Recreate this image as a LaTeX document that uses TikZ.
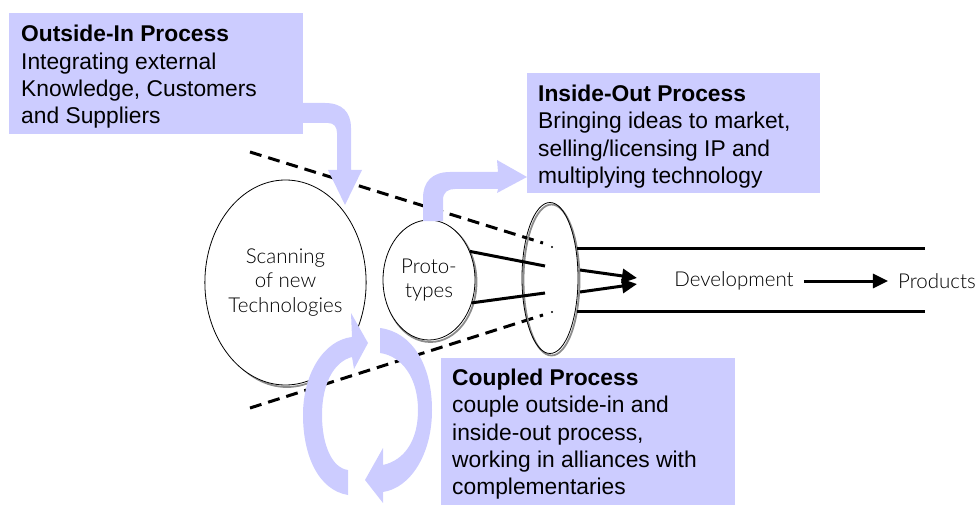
\documentclass[tikz,border=0pt]{standalone}
\usepackage{fontspec}
\setmainfont{Liberation Sans}
\newfontfamily\gill{Lato}[UprightFont=* Light]
\usetikzlibrary{arrows.meta,shapes.geometric}
\definecolor{lav}{RGB}{204,204,255}
\begin{document}
\begin{tikzpicture}[x=1pt,y=-1pt,
  pbox/.style={fill=lav, draw=none, anchor=north west, inner sep=0pt},
  ptext/.style={anchor=north west, inner sep=0pt, align=left, font=\fontsize{22.8}{27.4}\selectfont},
  oval/.style={ellipse, draw=black, line width=0.8pt, inner sep=0pt, align=center, font=\gill\fontsize{20.5}{24.5}\selectfont},
  ovalshadow/.style={ellipse, draw=black!45, line width=1.8pt, inner sep=0pt},
  gtext/.style={font=\gill\fontsize{20.5}{24}\selectfont, inner xsep=10pt, inner ysep=2pt},
  dline/.style={line width=3pt, dash pattern=on 12pt off 7pt},
  sline/.style={line width=3pt},
  tipped/.style={-{Triangle[length=15pt,width=14pt]}},
  flow/.style={fill=lav, draw=none}
]
\useasboundingbox (0,0) rectangle (979,505);

% process boxes
\node[pbox, minimum width=294pt, minimum height=121pt] (oibox) at (9,13) {};
\node[pbox, minimum width=293pt, minimum height=120pt] (iobox) at (527,73) {};
\node[pbox, minimum width=294pt, minimum height=147pt] (cpbox) at (441,358) {};

% dashed funnel
\coordinate (d1s) at (250,152); \coordinate (d1e) at (543,243); \coordinate (d1d) at (552,247);
\coordinate (d2s) at (250,408); \coordinate (d2e) at (543,315); \coordinate (d2d) at (552,312);
\draw[dline] (d1s) -- (d1e);
\draw[dline] (d2s) -- (d2e);
\fill (d1d) circle (1.1pt);
\fill (d2d) circle (1.1pt);

% ellipses with shadows
\node[ovalshadow, minimum width=155pt, minimum height=205pt] (scansh) at (287,284.5) {};
\node[oval, fill=white, minimum width=155pt, minimum height=205pt] (scan) at (285.5,282.5) {Scanning\\of new\\Technologies};
\node[ovalshadow, minimum width=92pt, minimum height=120pt] (protosh) at (430.5,282) {};
\node[oval, fill=white, minimum width=92pt, minimum height=120pt] (proto) at (429,280) {Proto-\\types};
\node[ovalshadow, minimum width=56pt, minimum height=151pt] (mouthsh) at (551.5,280) {};
\node[oval, minimum width=56pt, minimum height=151pt] (mouth) at (550,278) {};

% lines from prototypes
\coordinate (p1e) at (545,266); \coordinate (p2e) at (545,293);
\draw[sline] (proto.35) -- (p1e);
\draw[sline] (proto.-28) -- (p2e);
\coordinate (a1s) at (580,270); \coordinate (a1e) at (637,278);
\coordinate (a2s) at (580,292); \coordinate (a2e) at (637,284);
\draw[sline, tipped] (a1s) -- (a1e);
\draw[sline, tipped] (a2s) -- (a2e);

% development channel
\coordinate (h1s) at (577,248); \coordinate (h1e) at (925,248);
\coordinate (h2s) at (577,311); \coordinate (h2e) at (925,311);
\draw[sline] (h1s) -- (h1e);
\draw[sline] (h2s) -- (h2e);
\node[gtext] (dev) at (734,281) {Development};
\node[gtext] (prod) at (937,281) {Products};
\draw[sline, tipped] (dev.east) -- (prod.west);

% outside-in arrow
\fill[flow] (300,103) -- (325,103) .. controls (342,103) and (351,112) .. (351,128) -- (351,170)
  -- (362,170) -- (345,205) -- (328,170) -- (337,170) -- (337,133)
  .. controls (337,127) and (334,123) .. (328,123) -- (300,123) -- cycle;

% inside-out arrow
\fill[flow] (423,221) -- (423,198) .. controls (423,182) and (432,172) .. (450,172) -- (498,172)
  -- (497,160) -- (527,177) -- (497,193) -- (498,189) -- (455,189)
  .. controls (448,189) and (443,192) .. (443,200) -- (443,221) -- cycle;

% coupled cycle arrows
\fill[flow] (348,495) .. controls (318,490) and (303,455) .. (303,415)
  .. controls (303,372) and (325,340) .. (352,337) -- (351,313) -- (368,343) -- (354,369) -- (352,357)
  .. controls (333,362) and (322,385) .. (322,415)
  .. controls (322,445) and (332,468) .. (348,470) -- cycle;
\fill[flow] (380,328) .. controls (412,332) and (432,365) .. (432,410)
  .. controls (432,455) and (410,488) .. (383,492) -- (383,503) -- (365,480) -- (383,448) -- (383,465)
  .. controls (405,460) and (418,440) .. (418,410)
  .. controls (418,378) and (402,356) .. (380,353) -- cycle;

% box texts
\node[ptext] (oitext) at (21,25) {\textbf{Outside-In Process}\\Integrating external\\Knowledge, Customers\\and Suppliers};
\node[ptext] (iotext) at (538,84.5) {\textbf{Inside-Out Process}\\Bringing ideas to market,\\selling/licensing IP and\\multiplying technology};
\node[ptext] (cptext) at (452,368.5) {\textbf{Coupled Process}\\couple outside-in and\\inside-out process,\\working in alliances with\\complementaries};
\end{tikzpicture}
\end{document}
